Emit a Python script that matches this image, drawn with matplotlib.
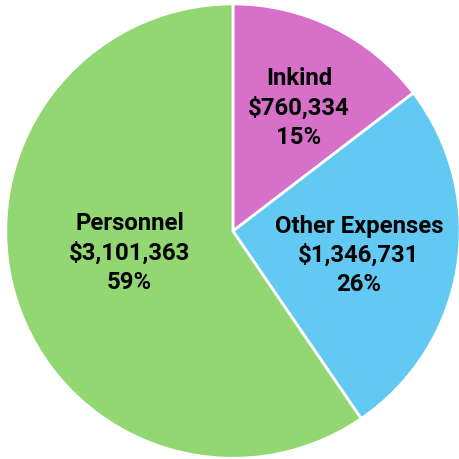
import numpy as np
import matplotlib.pyplot as plt

categories = ['Inkind', 'Other Expenses', 'Personnel']
amounts = [760334, 1346731, 3101363]
percents = [15, 26, 59]
colors = ['#D670C9', '#62C9F2', '#92D772']

# label placement (radius fraction, angle in degrees) relative to pie centre
label_r = [0.615, 0.565, 0.465]
label_ang = [61.8, -10.8, 192.0]

plt.rcParams['font.family'] = ['Roboto', 'DejaVu Sans']

fig = plt.figure(figsize=(4.59, 4.59), dpi=100)
ax = fig.add_axes([0, 0, 1, 1])
center = (0.015, -0.007)
radius = 0.99

wedges, _ = ax.pie(amounts, colors=colors, startangle=90, counterclock=False,
                   center=center, radius=radius,
                   wedgeprops=dict(edgecolor='white', linewidth=2))

for name, val, pct, r, a in zip(categories, amounts, percents, label_r, label_ang):
    x = center[0] + r * radius * np.cos(np.radians(a))
    y = center[1] + r * radius * np.sin(np.radians(a))
    ax.text(x, y, f'{name}\n${val:,}\n{pct}%', ha='center', va='center',
            fontsize=17.2, fontweight='bold', linespacing=1.33, color='black')

ax.set_xlim(-1, 1)
ax.set_ylim(-1, 1)
ax.set_aspect('equal')
ax.axis('off')
fig.savefig('out.png', dpi=100)
